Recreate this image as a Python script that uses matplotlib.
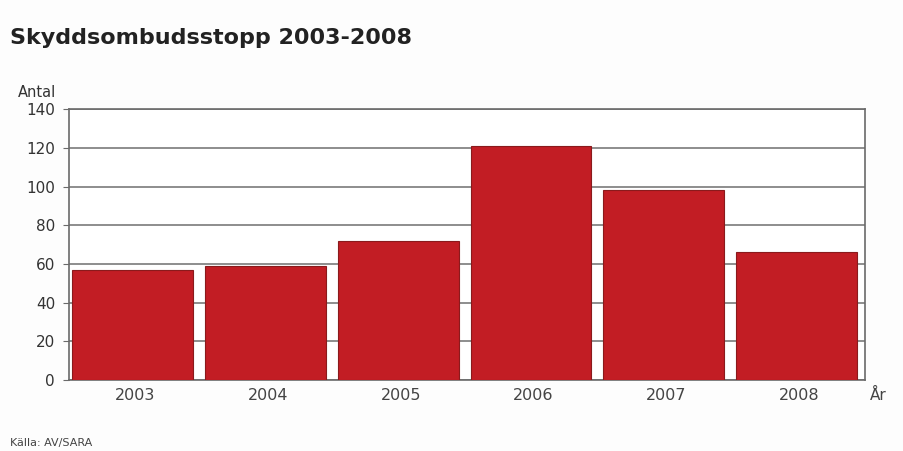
import numpy as np
import matplotlib.pyplot as plt

# Data
years = ['2003', '2004', '2005', '2006', '2007', '2008']
stopp = [57, 59, 72, 121, 98, 66]
y_ticks = [0, 20, 40, 60, 80, 100, 120, 140]

fig = plt.figure(figsize=(9.04, 4.51), dpi=100)
fig.patch.set_facecolor('#fdfdfd')
ax = fig.add_axes([0.0763, 0.1574, 0.881, 0.6006])

x = np.arange(len(years))
ax.bar(x - 0.02, stopp, width=0.91, color='#c21d24', edgecolor='#8a1a1c', linewidth=0.8, zorder=3)

ax.set_xlim(-0.5, len(years) - 0.5)
ax.set_ylim(0, 140)
ax.set_yticks(y_ticks)
ax.set_xticks(x)
ax.set_xticklabels(years)
ax.yaxis.grid(True, color='#7a7a7a', linewidth=1.2, zorder=0)
for s in ax.spines.values():
    s.set_color('#6a6a6a')
    s.set_linewidth(1.2)
ax.tick_params(axis='y', length=4, color='#6a6a6a', labelsize=11, labelcolor='#333333', pad=6)
ax.tick_params(axis='x', length=0, labelsize=11.5, labelcolor='#444444', pad=6)
ax.set_facecolor('white')

fig.text(0.011, 0.915, 'Skyddsombudsstopp 2003-2008', fontsize=16, fontweight='bold',
         color='#222222', va='center', ha='left')
fig.text(0.02, 0.796, 'Antal', fontsize=10.5, color='#333333', va='center', ha='left')
fig.text(0.962, 0.124, 'År', fontsize=11, color='#444444', va='center', ha='left')
fig.text(0.011, 0.018, 'Källa: AV/SARA', fontsize=8, color='#444444', va='center', ha='left')

fig.savefig('out.png', dpi=100, facecolor=fig.get_facecolor())
